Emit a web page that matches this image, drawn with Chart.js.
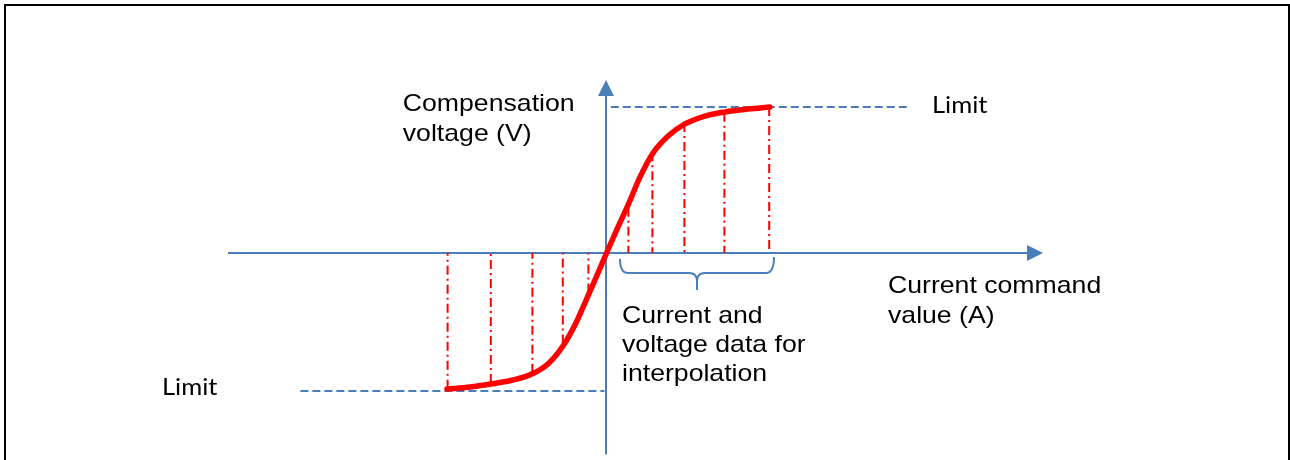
<!DOCTYPE html>
<html>
<head>
<meta charset="utf-8">
<title>Compensation voltage vs. current command value</title>
<script src="https://cdn.jsdelivr.net/npm/chart.js@4/dist/chart.umd.min.js"></script>
<style>
  html, body { margin: 0; padding: 0; background: #fff; overflow: hidden; }
  #wrap { position: relative; width: 1290px; height: 460px; }
  #frame { position: absolute; left: 4px; top: 4px; width: 1282px; height: 540px; border: 2px solid #000; }
  #c { position: absolute; left: 0; top: 0; }
</style>
</head>
<body>
<div id="wrap">
  <div id="frame"></div>
  <canvas id="c" width="1290" height="460"></canvas>
</div>
<script>
// Characteristic curve: current command value (normalised) -> compensation voltage (normalised)
const curveCurrent = [-0.994, -0.85, -0.719, -0.581, -0.463, -0.363, -0.269, -0.188, -0.113, -0.05, 0.006,
                      0.069, 0.138, 0.213, 0.294, 0.388, 0.494, 0.619, 0.744, 0.888, 1.025];
const curveVoltage = [-0.932, -0.918, -0.897, -0.870, -0.829, -0.760, -0.637, -0.479, -0.295, -0.137, 0.007,
                      0.164, 0.329, 0.521, 0.685, 0.801, 0.884, 0.938, 0.966, 0.986, 1.000];

// Stored interpolation table entries (marked with dash-dot drop lines)
const tableCurrent = [-0.99, -0.72, -0.46, -0.27, -0.11, 0.14, 0.29, 0.49, 0.74, 1.02];
const tableVoltage = [-0.93, -0.89, -0.82, -0.62, -0.27, 0.31, 0.69, 0.89, 0.96, 1.00];

// Voltage limits and the horizontal extent of their guide lines
const upperLimit = 1.00;
const lowerLimit = -0.945;
const upperLimitSpan = [0.03, 1.90];
const lowerLimitSpan = [-1.91, -0.01];

// Axis extents (arrowheads are added beyond the end values)
const xAxisSpan = [-2.3625, 2.6375];
const yAxisSpan = [-1.38, 1.082];

// Brace under the positive-side table entries
const braceSpan = [0.0875, 1.05];

// Text annotations
const SANS = '24px "Liberation Sans", Arial, sans-serif';
const LIMIT_FONT = '23px Lato, "Liberation Sans", sans-serif';
const labels = [
  { lines: ['Compensation', 'voltage (V)'], x: -1.27, y: 0.973, font: SANS, lh: 30 },
  { lines: ['Limit'], x: 2.0375, y: 0.959, font: LIMIT_FONT, lh: 30 },
  { lines: ['Current command', 'value (A)'], x: 1.7625, y: -0.274, font: SANS, lh: 29.5 },
  { lines: ['Current and', 'voltage data for', 'interpolation'], x: 0.10, y: -0.479, font: SANS, lh: 29 },
  { lines: ['Limit'], x: -2.775, y: -0.973, font: LIMIT_FONT, lh: 30 }
];

const RED = '#FF0000';
const BLUE = '#4A7EBB';

const pts = (xs, ys) => xs.map((x, i) => ({ x, y: ys[i] }));

const datasets = [];
// characteristic curve (drawn on top)
datasets.push({
  data: pts(curveCurrent, curveVoltage),
  borderColor: RED, borderWidth: 5.5, borderCapStyle: 'round', borderJoinStyle: 'round',
  cubicInterpolationMode: 'monotone', pointRadius: 0, showLine: true, order: 0
});
// dash-dot drop lines at each table entry
tableCurrent.forEach((c, i) => {
  datasets.push({
    data: [{ x: c, y: tableVoltage[i] }, { x: c, y: 0 }],
    borderColor: RED, borderWidth: 2, borderDash: [9, 4, 2, 4],
    pointRadius: 0, showLine: true, order: 1
  });
});
// limit guide lines
datasets.push({
  data: [{ x: upperLimitSpan[0], y: upperLimit }, { x: upperLimitSpan[1], y: upperLimit }],
  borderColor: BLUE, borderWidth: 2, borderDash: [8, 4], pointRadius: 0, showLine: true, order: 2
});
datasets.push({
  data: [{ x: lowerLimitSpan[0], y: lowerLimit }, { x: lowerLimitSpan[1], y: lowerLimit }],
  borderColor: BLUE, borderWidth: 2, borderDash: [8, 4], pointRadius: 0, showLine: true, order: 2
});
// axes
datasets.push({
  data: [{ x: xAxisSpan[0], y: 0 }, { x: xAxisSpan[1], y: 0 }],
  borderColor: BLUE, borderWidth: 2, pointRadius: 0, showLine: true, order: 3
});
datasets.push({
  data: [{ x: 0, y: yAxisSpan[0] }, { x: 0, y: yAxisSpan[1] }],
  borderColor: BLUE, borderWidth: 2, pointRadius: 0, showLine: true, order: 3
});

// arrowheads, brace and text
const extras = {
  id: 'diagramExtras',
  afterDatasetsDraw(chart) {
    const { ctx, scales: { x, y } } = chart;
    ctx.save();

    // arrowheads
    ctx.fillStyle = BLUE;
    const ax = x.getPixelForValue(xAxisSpan[1]), ay = y.getPixelForValue(0);
    ctx.beginPath();
    ctx.moveTo(ax - 1, ay - 8); ctx.lineTo(ax + 15, ay); ctx.lineTo(ax - 1, ay + 8); ctx.closePath();
    ctx.fill();
    const bx = x.getPixelForValue(0), by = y.getPixelForValue(yAxisSpan[1]);
    ctx.beginPath();
    ctx.moveTo(bx - 8, by + 1); ctx.lineTo(bx, by - 15); ctx.lineTo(bx + 8, by + 1); ctx.closePath();
    ctx.fill();

    // brace
    const l = x.getPixelForValue(braceSpan[0]), r = x.getPixelForValue(braceSpan[1]);
    const m = (l + r) / 2, top = ay + 6, mid = ay + 20, tip = ay + 37;
    ctx.strokeStyle = BLUE; ctx.lineWidth = 2; ctx.lineJoin = 'round';
    ctx.beginPath();
    ctx.moveTo(l, top);
    ctx.quadraticCurveTo(l, mid, l + 8, mid);
    ctx.lineTo(m - 8, mid);
    ctx.quadraticCurveTo(m, mid, m, mid + 8);
    ctx.lineTo(m, tip);
    ctx.moveTo(m, mid + 8);
    ctx.quadraticCurveTo(m, mid, m + 8, mid);
    ctx.lineTo(r - 8, mid);
    ctx.quadraticCurveTo(r, mid, r, top - 2);
    ctx.stroke();

    // text
    ctx.fillStyle = '#000';
    ctx.textAlign = 'left';
    ctx.textBaseline = 'alphabetic';
    labels.forEach(lab => {
      ctx.font = lab.font;
      const px = x.getPixelForValue(lab.x), py = y.getPixelForValue(lab.y);
      lab.lines.forEach((t, i) => {
        ctx.save();
        ctx.translate(px, py + i * lab.lh);
        ctx.scale(1.11, 1);
        ctx.fillText(t, 0, 0);
        ctx.restore();
      });
    });
    ctx.restore();
  }
};

new Chart(document.getElementById('c'), {
  type: 'scatter',
  data: { datasets },
  options: {
    responsive: false,
    animation: false,
    events: [],
    layout: { padding: 0 },
    datasets: { scatter: { clip: false } },
    scales: {
      x: { type: 'linear', min: -606 / 160, max: 684 / 160, display: false },
      y: { type: 'linear', min: -207 / 146, max: 253 / 146, display: false }
    },
    plugins: { legend: { display: false }, tooltip: { enabled: false } }
  },
  plugins: [extras]
});
</script>
</body>
</html>
